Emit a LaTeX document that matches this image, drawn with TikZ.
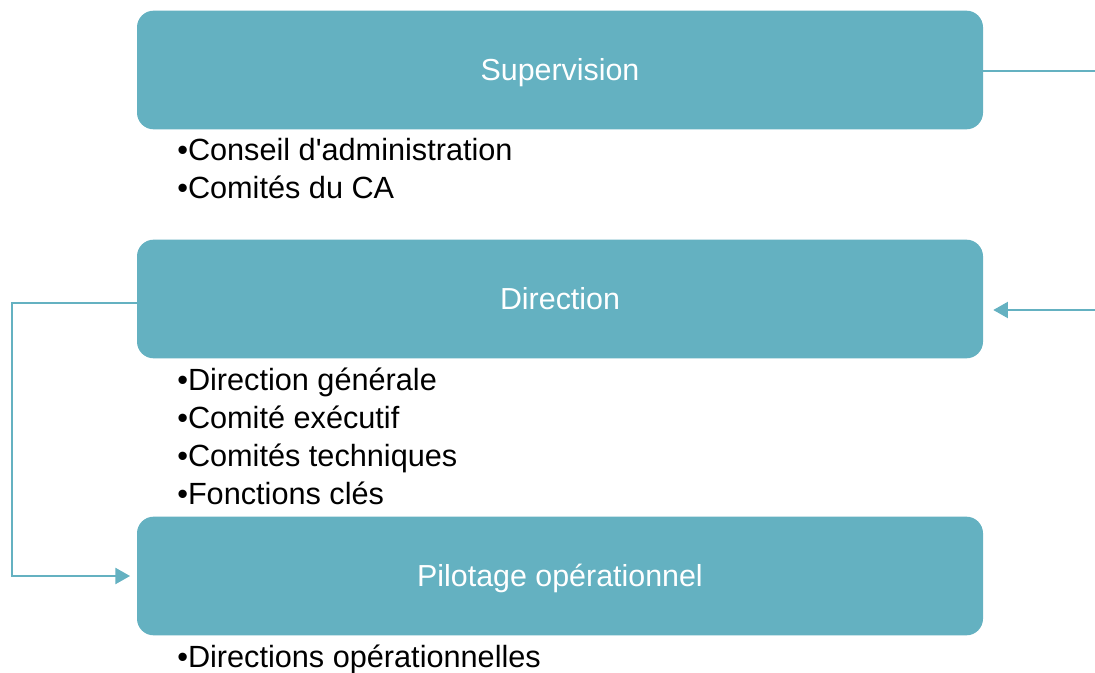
\documentclass[tikz,border=0pt]{standalone}
\usepackage{fontspec}
\setmainfont{Liberation Sans}
\usepackage{tikz}
\usetikzlibrary{calc,positioning,arrows.meta}
\definecolor{bleu}{RGB}{100,177,193}

\begin{document}
\begin{tikzpicture}[x=0.75pt, y=-0.75pt, % 1px = 0.75pt、y軸は下向き
  bloc/.style={fill=bleu, rounded corners=12.5pt, minimum width=634.5pt, minimum height=89pt, inner sep=0pt,
    text=white, text height=16.2pt, text depth=0pt, font=\fontsize{22.8}{27}\selectfont}, % 色付きの箱
  liste/.style={anchor=north west, inner sep=0pt, align=left, font=\fontsize{23}{28.5}\selectfont}, % 箇条書き
  lien/.style={draw=bleu, line width=1.6pt}, % 線
  fleche/.style={lien, -{Triangle[length=11pt, width=12pt]}}] % 矢印
  \useasboundingbox (0,0) rectangle (1095,673); % 画像の大きさ

  \node[bloc] (super) at (560,70) {Supervision}; % 上の箱
  \node[bloc] (direc) at (560,299) {Direction}; % 中の箱
  \node[bloc] (pilot) at (560,576) {Pilotage opérationnel}; % 下の箱

  \node[liste] (superlist) at (177,138) {•Conseil d\textquotesingle administration\\•Comités du CA};
  \node[liste] (dirlist) at (177,368) {•Direction générale\\•Comité exécutif\\•Comités techniques\\•Fonctions clés};
  \node[liste] (pilotlist) at (177,645) {•Directions opérationnelles};

  \coordinate (rout) at (1095,71); % 右端、出る線
  \coordinate (rin) at (1095,310); % 右端、入る矢印
  \coordinate (lcoin) at (12,303); % 左の角

  \draw[lien] (super.east |- rout) -- (rout); % 右へ
  \draw[fleche, shorten >=7.5pt] (rin) -- (rin -| direc.east); % 右から戻る
  \draw[fleche, shorten >=5pt] (direc.west |- lcoin) -- (lcoin) |- (pilot.west); % 左回り


\end{tikzpicture}
\end{document}
